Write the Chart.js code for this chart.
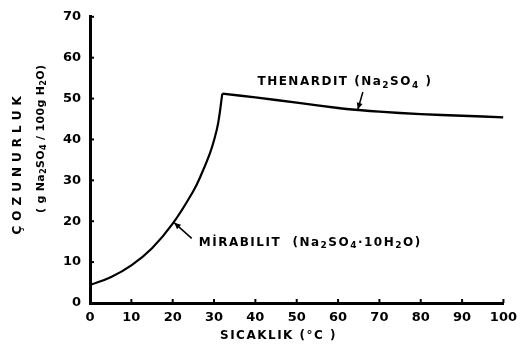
<!DOCTYPE html>
<html>
<head>
<meta charset="utf-8">
<script src="https://cdn.jsdelivr.net/npm/chart.js@4/dist/chart.umd.min.js"></script>
<style>
  html, body { margin: 0; padding: 0; background: #fff; }
  #wrap { width: 524px; height: 354px; }
</style>
</head>
<body>
<div id="wrap"><canvas id="sol"></canvas></div>
<script>
// sıcaklık (°C) / çözünürlük değerleri
var mirabilitT = [0, 5, 10, 15, 20, 25, 27, 29, 30, 31, 32];
var mirabilitS = [4.4, 6.3, 9.2, 13.4, 19.4, 27.4, 31.6, 36.6, 39.8, 44.0, 51.2];
var thenarditT = [32, 40, 50, 60, 65, 70, 80, 90, 100];
var thenarditS = [51.2, 50.3, 49.0, 47.7, 47.2, 46.8, 46.2, 45.8, 45.4];
var xTicks = [0, 10, 20, 30, 40, 50, 60, 70, 80, 90, 100];
var yTicks = [0, 10, 20, 30, 40, 50, 60, 70];

function pts(xs, ys) {
  return xs.map(function (x, i) { return { x: x, y: ys[i] }; });
}

var FONT = 'DejaVu Sans';

// etiketler ve oklar (veri koordinatlarında); "_" sonrası karakter alt simge
var notes = [
  { text: 'THENARDIT (Na_2SO_4 )', at: [40.5, 54], from: [66, 51.6], to: [64.8, 47.4] },
  { text: 'MİRABILIT  (Na_2SO_4·10H_2O)', at: [26.3, 14.8], from: [24.6, 15.8], to: [20.4, 19.6] }
];

function parts(str) {
  var out = [];
  for (var i = 0; i < str.length; i++) {
    if (str[i] === '_') { out.push({ t: str[i + 1], sub: true }); i++; }
    else out.push({ t: str[i], sub: false });
  }
  return out;
}

// alt simgeli metin; align: 'left' | 'center'
function drawRich(ctx, str, x, y, size, spacing, align) {
  var p = parts(str), w = 0;
  ctx.letterSpacing = spacing + 'px';
  p.forEach(function (c) {
    ctx.font = 'bold ' + (c.sub ? size * 0.75 : size) + 'px "' + FONT + '"';
    c.w = ctx.measureText(c.t).width;
    w += c.w;
  });
  var cx = align === 'center' ? x - w / 2 : x;
  ctx.textBaseline = 'middle';
  ctx.textAlign = 'left';
  p.forEach(function (c) {
    ctx.font = 'bold ' + (c.sub ? size * 0.75 : size) + 'px "' + FONT + '"';
    ctx.fillText(c.t, cx, c.sub ? y + size * 0.3 : y);
    cx += c.w;
  });
  ctx.letterSpacing = '0px';
}

var inkPlugin = {
  id: 'ink',
  afterDatasetsDraw: function (chart) {
    var ctx = chart.ctx, xs = chart.scales.x, ys = chart.scales.y;
    ctx.save();
    ctx.strokeStyle = '#000';
    ctx.fillStyle = '#000';
    // içe dönük küçük çentikler
    ctx.lineWidth = 2;
    yTicks.forEach(function (v) {
      var py = ys.getPixelForValue(v);
      ctx.beginPath(); ctx.moveTo(xs.left, py); ctx.lineTo(xs.left + 4, py); ctx.stroke();
    });
    xTicks.forEach(function (v) {
      var px = xs.getPixelForValue(v);
      ctx.beginPath(); ctx.moveTo(px, ys.bottom); ctx.lineTo(px, ys.bottom - 4); ctx.stroke();
    });
    notes.forEach(function (n) {
      drawRich(ctx, n.text, xs.getPixelForValue(n.at[0]), ys.getPixelForValue(n.at[1]), 12, 1.5, 'left');
      var x0 = xs.getPixelForValue(n.from[0]), y0 = ys.getPixelForValue(n.from[1]);
      var x1 = xs.getPixelForValue(n.to[0]), y1 = ys.getPixelForValue(n.to[1]);
      ctx.lineWidth = 1.5;
      ctx.beginPath(); ctx.moveTo(x0, y0); ctx.lineTo(x1, y1); ctx.stroke();
      var a = Math.atan2(y1 - y0, x1 - x0);
      ctx.beginPath();
      ctx.moveTo(x1, y1);
      ctx.lineTo(x1 - 7 * Math.cos(a - 0.45), y1 - 7 * Math.sin(a - 0.45));
      ctx.lineTo(x1 - 7 * Math.cos(a + 0.45), y1 - 7 * Math.sin(a + 0.45));
      ctx.closePath();
      ctx.fill();
    });
    // eksen başlıkları
    drawRich(ctx, 'SICAKLIK (°C )', xs.getPixelForValue(45.6), xs.bottom - 15, 12, 1.5, 'center');
    var midY = (ys.top + ys.bottom) / 2;
    ctx.save();
    ctx.translate(ys.left + 14, midY + 3);
    ctx.rotate(-Math.PI / 2);
    drawRich(ctx, 'ÇOZUNURLUK', 0, 0, 12, 5, 'center');
    ctx.restore();
    ctx.save();
    ctx.translate(ys.left + 37, midY - 21);
    ctx.rotate(-Math.PI / 2);
    drawRich(ctx, '( g Na_2SO_4 / 100g H_2O)', 0, 0, 11, 0.3, 'center');
    ctx.restore();
    ctx.restore();
  }
};

new Chart(document.getElementById('sol'), {
  type: 'line',
  data: {
    datasets: [{
      label: 'Mirabilit',
      data: pts(mirabilitT, mirabilitS),
      borderColor: '#000',
      borderWidth: 2.2,
      pointRadius: 0,
      tension: 0.4,
    }, {
      label: 'Thenardit',
      data: pts(thenarditT, thenarditS),
      borderColor: '#000',
      borderWidth: 2.4,
      pointRadius: 0,
      tension: 0.3,
    }],
  },
  options: {
    responsive: true,
    maintainAspectRatio: false,
    animation: false,
    layout: { padding: { top: 16, right: 14, left: 4, bottom: 3 } },
    plugins: { legend: { display: false }, tooltip: { enabled: false } },
    scales: {
      x: {
        type: 'linear',
        min: 0,
        max: 100,
        afterFit: function (s) { s.height = 48; },
        afterBuildTicks: function (s) { s.ticks = xTicks.map(function (v) { return { value: v }; }); },
        border: { color: '#000', width: 3 },
        grid: { display: false, drawTicks: false },
        ticks: { color: '#000', padding: 7, maxRotation: 0, font: { family: FONT, size: 13, weight: 'bold' } },
      },
      y: {
        min: 0,
        max: 70,
        afterFit: function (s) { s.width = 86; },
        afterBuildTicks: function (s) { s.ticks = yTicks.map(function (v) { return { value: v }; }); },
        border: { color: '#000', width: 3 },
        grid: { display: false, drawTicks: false },
        ticks: { color: '#000', padding: 9, font: { family: FONT, size: 13, weight: 'bold' } },
      },
    },
  },
  plugins: [inkPlugin],
});
</script>
</body>
</html>
